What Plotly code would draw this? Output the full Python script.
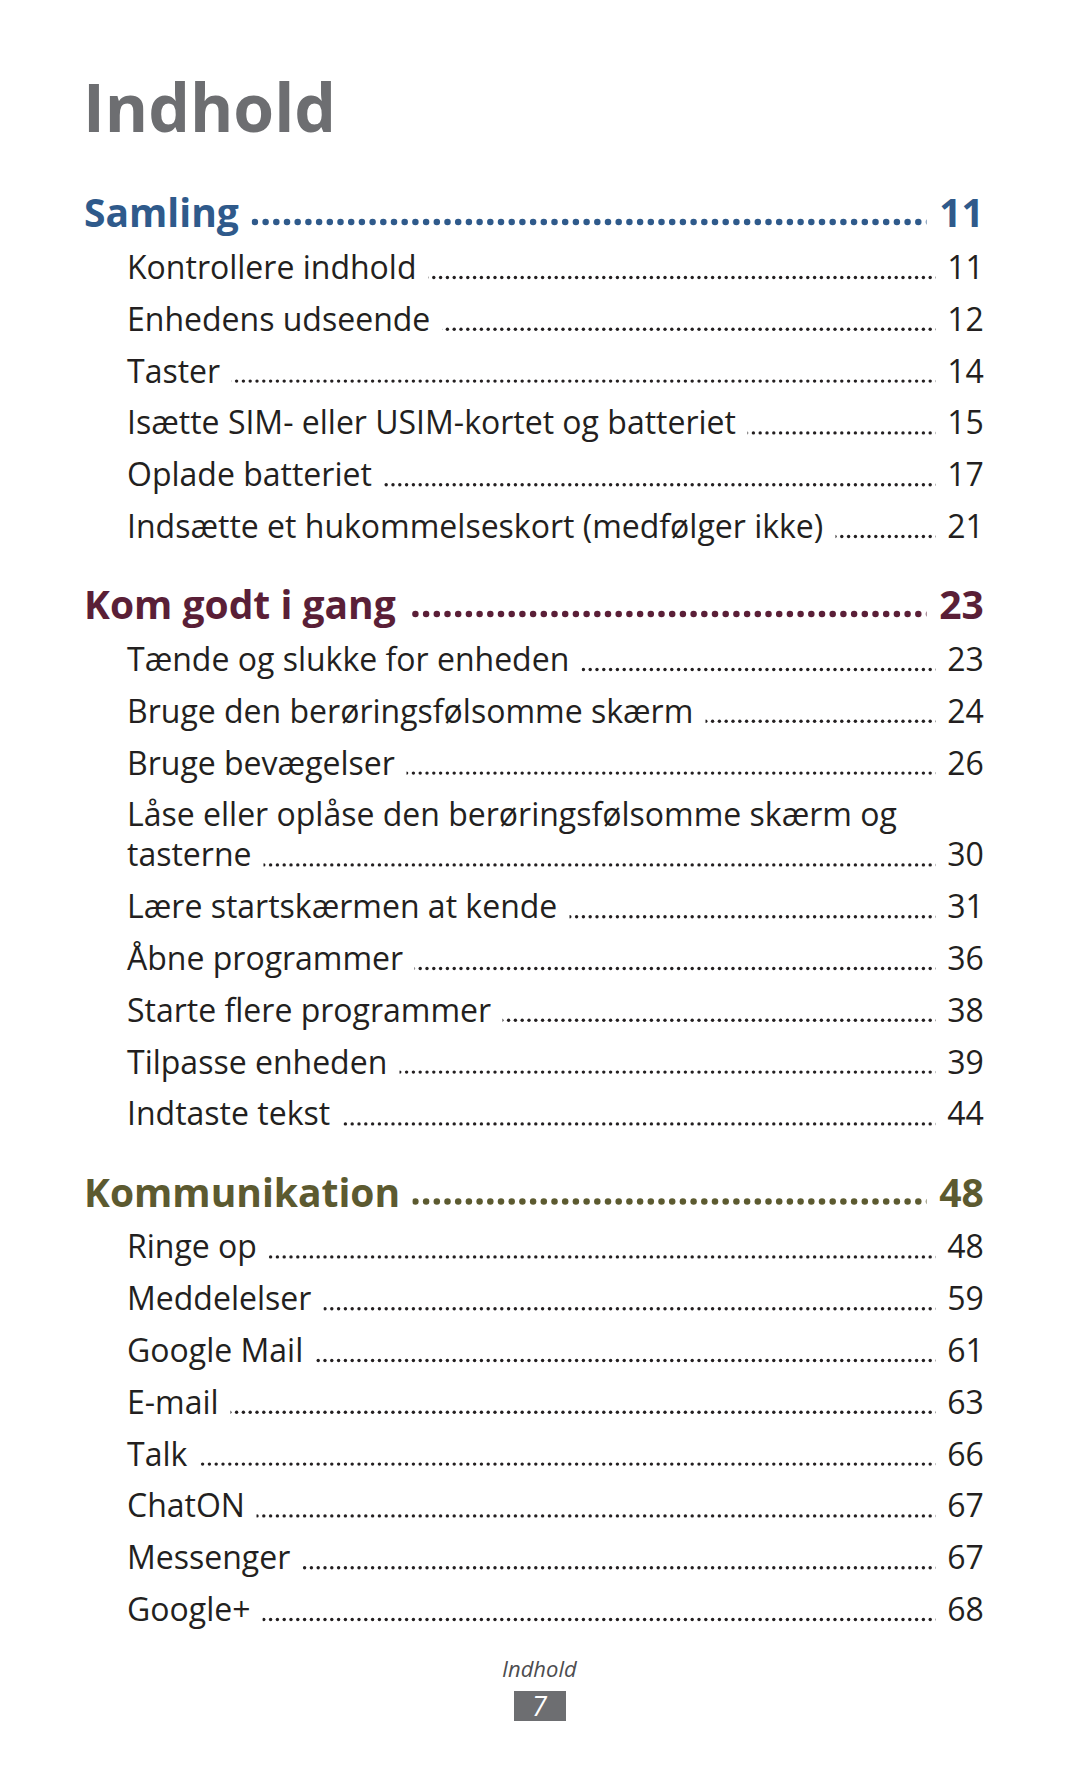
import numpy as np
import plotly.graph_objects as go

# ---------------- data ----------------
page_title = "Indhold"
sections = ["Samling", "Kom godt i gang", "Kommunikation"]
section_pages = [11, 23, 48]
entries_samling = ["Kontrollere indhold", "Enhedens udseende", "Taster",
                   "Isætte SIM- eller USIM-kortet og batteriet", "Oplade batteriet",
                   "Indsætte et hukommelseskort (medfølger ikke)"]
pages_samling = [11, 12, 14, 15, 17, 21]
entries_kom = ["Tænde og slukke for enheden", "Bruge den berøringsfølsomme skærm",
               "Bruge bevægelser",
               "Låse eller oplåse den berøringsfølsomme skærm og\ntasterne",
               "Lære startskærmen at kende", "Åbne programmer", "Starte flere programmer",
               "Tilpasse enheden", "Indtaste tekst"]
pages_kom = [23, 24, 26, 30, 31, 36, 38, 39, 44]
entries_komm = ["Ringe op", "Meddelelser", "Google Mail", "E-mail", "Talk",
                "ChatON", "Messenger", "Google+"]
pages_komm = [48, 59, 61, 63, 66, 67, 67, 68]
footer_label = "Indhold"
footer_page = "7"

section_entries = [entries_samling, entries_kom, entries_komm]
section_entry_pages = [pages_samling, pages_kom, pages_komm]

# ---------------- styles / layout ----------------
W, H = 1080, 1771
OFF = 8  # compensates the page's default body margin
FONT = "Open Sans, Noto Sans, sans-serif"
section_colors = ["#2f5a8b", "#5a1f37", "#5c5a30"]
text_color = "#231f20"
title_color = "#6d6e71"

X_SECTION = 85
X_ENTRY = 127
X_RIGHT = 985
TITLE_BASE = 132
FIRST_SECTION_BASE = 227
SEC_TO_ENTRY = 52
ENTRY_STEP = 51.8
WRAP_STEP = 40
ENTRY_TO_SEC = 81

F_TITLE, F_SEC, F_ENTRY = 66, 39, 32
MID = 0.388  # baseline -> middle of text box (Open Sans metrics)
PAD = 3

ENTRY_DOT_END, ENTRY_DOT_STEP, ENTRY_DOT_SIZE = 937, 6.8, 3.4
SEC_DOT_END, SEC_DOT_STEP, SEC_DOT_SIZE = 929, 10.7, 6.5

fig = go.Figure()
annotations = []
late_annotations = []


def add_text(x, baseline, text, size, color, anchor="left", bg=None, late=False, pad=0):
    if anchor == "left":
        x = x - pad
    elif anchor == "right":
        x = x + pad
    (late_annotations if late else annotations).append(dict(
        x=x, y=baseline - MID * size, xref="x", yref="y", text=text, showarrow=False,
        xanchor=anchor, yanchor="middle",
        font=dict(family=FONT, size=size, color=color),
        bgcolor=bg, borderpad=pad,
    ))


def dots(x0, x_end, step, y, size, color):
    n = int((x_end - x0) // step) + 1
    xs = x_end - step * np.arange(n)
    fig.add_trace(go.Scatter(x=xs, y=np.full(n, y), mode="markers",
                             marker=dict(size=size, color=color, line=dict(width=0)),
                             hoverinfo="skip", showlegend=False))


# title
add_text(X_SECTION - 3, TITLE_BASE, f"<b>{page_title}</b>", F_TITLE, title_color)

base = FIRST_SECTION_BASE
for s, (name, pg, col) in enumerate(zip(sections, section_pages, section_colors)):
    dots(X_SECTION + 20, SEC_DOT_END, SEC_DOT_STEP, base - 5, SEC_DOT_SIZE, col)
    add_text(X_SECTION - 2, base, f"<b>{name}</b>\u00a0", F_SEC, col, bg="white", pad=2)
    add_text(X_RIGHT, base, f"<b>\u00a0{pg}</b>", F_SEC, col, anchor="right", bg="white", pad=2)
    base += SEC_TO_ENTRY
    for i, (entry, epg) in enumerate(zip(section_entries[s], section_entry_pages[s])):
        lines = entry.split("\n")
        for ln in lines[:-1]:
            add_text(X_ENTRY - 1, base, ln, F_ENTRY, text_color, late=True)
            base += WRAP_STEP
        dots(X_ENTRY + 12, ENTRY_DOT_END, ENTRY_DOT_STEP, base - 1.5, ENTRY_DOT_SIZE, text_color)
        add_text(X_ENTRY - 1, base, lines[-1] + "\u00a0", F_ENTRY, text_color, bg="white", pad=PAD)
        add_text(X_RIGHT, base, "\u00a0" + str(epg), F_ENTRY, text_color, anchor="right",
                 bg="white", pad=PAD)
        if i < len(section_entries[s]) - 1:
            base += ENTRY_STEP
    base += ENTRY_TO_SEC

# footer
add_text(540, 1677, f"<i>{footer_label}</i>", 22, "#4d4d4f", anchor="center")
shapes = [dict(type="rect", xref="x", yref="y", x0=514, x1=566, y0=1691, y1=1721,
               fillcolor="#6d6e71", line=dict(width=0), layer="below")]
add_text(540, 1716, f"<i>{footer_page}</i>", 27, "white", anchor="center")

fig.update_layout(
    width=W, height=H, margin=dict(l=0, r=0, t=0, b=0),
    paper_bgcolor="white", plot_bgcolor="white",
    xaxis=dict(range=[OFF, W + OFF], visible=False, fixedrange=True),
    yaxis=dict(range=[H + OFF, OFF], visible=False, fixedrange=True),
    annotations=annotations + late_annotations, shapes=shapes, showlegend=False,
)
fig.write_html("out.html")
